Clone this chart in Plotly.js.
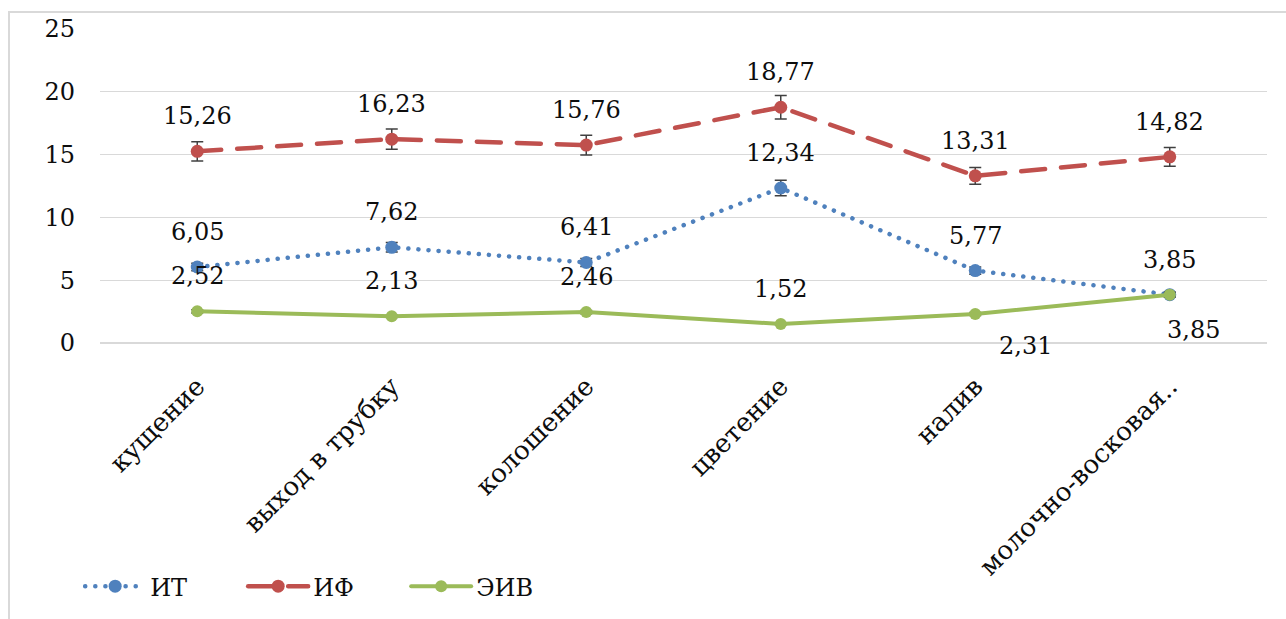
<!DOCTYPE html>
<html>
<head>
<meta charset="utf-8">
<script src="https://cdn.plot.ly/plotly-3.0.1.min.js"></script>
<style>
  html, body { margin: 0; padding: 0; background: #fff; overflow: hidden; }
  #frame { position: absolute; left: 8px; top: 11px; width: 1300px; height: 640px;
           border-left: 2.5px solid #d9d9d9; border-top: 2.5px solid #d9d9d9; z-index: 0; }
  #chart { position: absolute; left: 0; top: 0; width: 1286px; height: 619px; z-index: 1; }
  path.js-line { stroke-linecap: round; }
</style>
</head>
<body>
<div id="frame"></div>
<div id="chart"></div>
<script>
// ---- data ----
const categories = ["кущение", "выход в трубку", "колошение", "цветение", "налив", "молочно-восковая.."];
const seriesNames = ["ИТ", "ИФ", "ЭИВ"];
const valuesIT  = [6.05, 7.62, 6.41, 12.34, 5.77, 3.85];
const valuesIF  = [15.26, 16.23, 15.76, 18.77, 13.31, 14.82];
const valuesEIV = [2.52, 2.13, 2.46, 1.52, 2.31, 3.85];
const yTickVals = [0, 5, 10, 15, 20, 25];
const errorPercent = 5;

// ---- styles ----
const FONT = "DejaVu Serif";
const colors = ["#4F81BD", "#C0504D", "#9BBB59"];
const labelDx = [[0,0,0,0,0,0],[0,0,0,0,0,0],[0,0,0,0,50,24]];
const labelDy = [[35,35,35,35,35,35],[35,35,35,35,35,35],[35,35,35,35,-32,-35]];

const allValues = [valuesIT, valuesIF, valuesEIV];
const lineStyles = [
  {color: colors[0], width: 4.5, dash: "0.1px,10px"},
  {color: colors[1], width: 4.5, dash: "24px,16px"},
  {color: colors[2], width: 4, dash: "solid"}
];
const markerSizes = [13, 13, 12];

const traces = allValues.map((vals, i) => ({
  type: "scatter",
  mode: "lines+markers",
  name: seriesNames[i],
  x: categories,
  y: vals,
  line: lineStyles[i],
  marker: {color: colors[i], size: markerSizes[i]},
  error_y: {type: "percent", value: errorPercent, color: "#404040", thickness: 1.5, width: 6, visible: true},
  hoverinfo: "x+y"
}));

const fmt = v => v.toFixed(2).replace(".", ",");
const annotations = [];
allValues.forEach((vals, i) => {
  vals.forEach((v, j) => {
    annotations.push({
      x: categories[j], y: v, xref: "x", yref: "y",
      text: fmt(v), showarrow: false,
      xanchor: "center", yanchor: "middle",
      xshift: labelDx[i][j], yshift: labelDy[i][j],
      font: {family: FONT, size: 24, color: "#0d0d0d"}
    });
  });
});

const layout = {
  width: 1286, height: 619,
  margin: {l: 100, r: 19, t: 29, b: 275},
  paper_bgcolor: "rgba(0,0,0,0)",
  plot_bgcolor: "rgba(0,0,0,0)",
  font: {family: FONT},
  showlegend: true,
  legend: {
    orientation: "h", x: -0.017, xanchor: "left", y: -0.77, yanchor: "middle",
    font: {family: FONT, size: 24, color: "#0d0d0d"},
    entrywidth: 88, entrywidthmode: "pixels", itemwidth: 60,
    bgcolor: "rgba(0,0,0,0)"
  },
  xaxis: {
    type: "category", range: [-0.5, 5.5],
    tickangle: -45, ticks: "", showgrid: false, showline: false, zeroline: false,
    tickfont: {family: FONT, size: 26, color: "#0d0d0d"},
    ticklabelstandoff: 22
  },
  yaxis: {
    range: [0, 25], tickvals: yTickVals, ticktext: yTickVals.map(String),
    ticks: "", showline: false, showgrid: true, gridcolor: "#d9d9d9", gridwidth: 1.2,
    zeroline: true, zerolinecolor: "#d9d9d9", zerolinewidth: 1.2,
    tickfont: {family: FONT, size: 24, color: "#0d0d0d"},
    ticklabelstandoff: 24
  },
  annotations: annotations
};

Plotly.newPlot("chart", traces, layout, {displayModeBar: false, staticPlot: true});
</script>
</body>
</html>
